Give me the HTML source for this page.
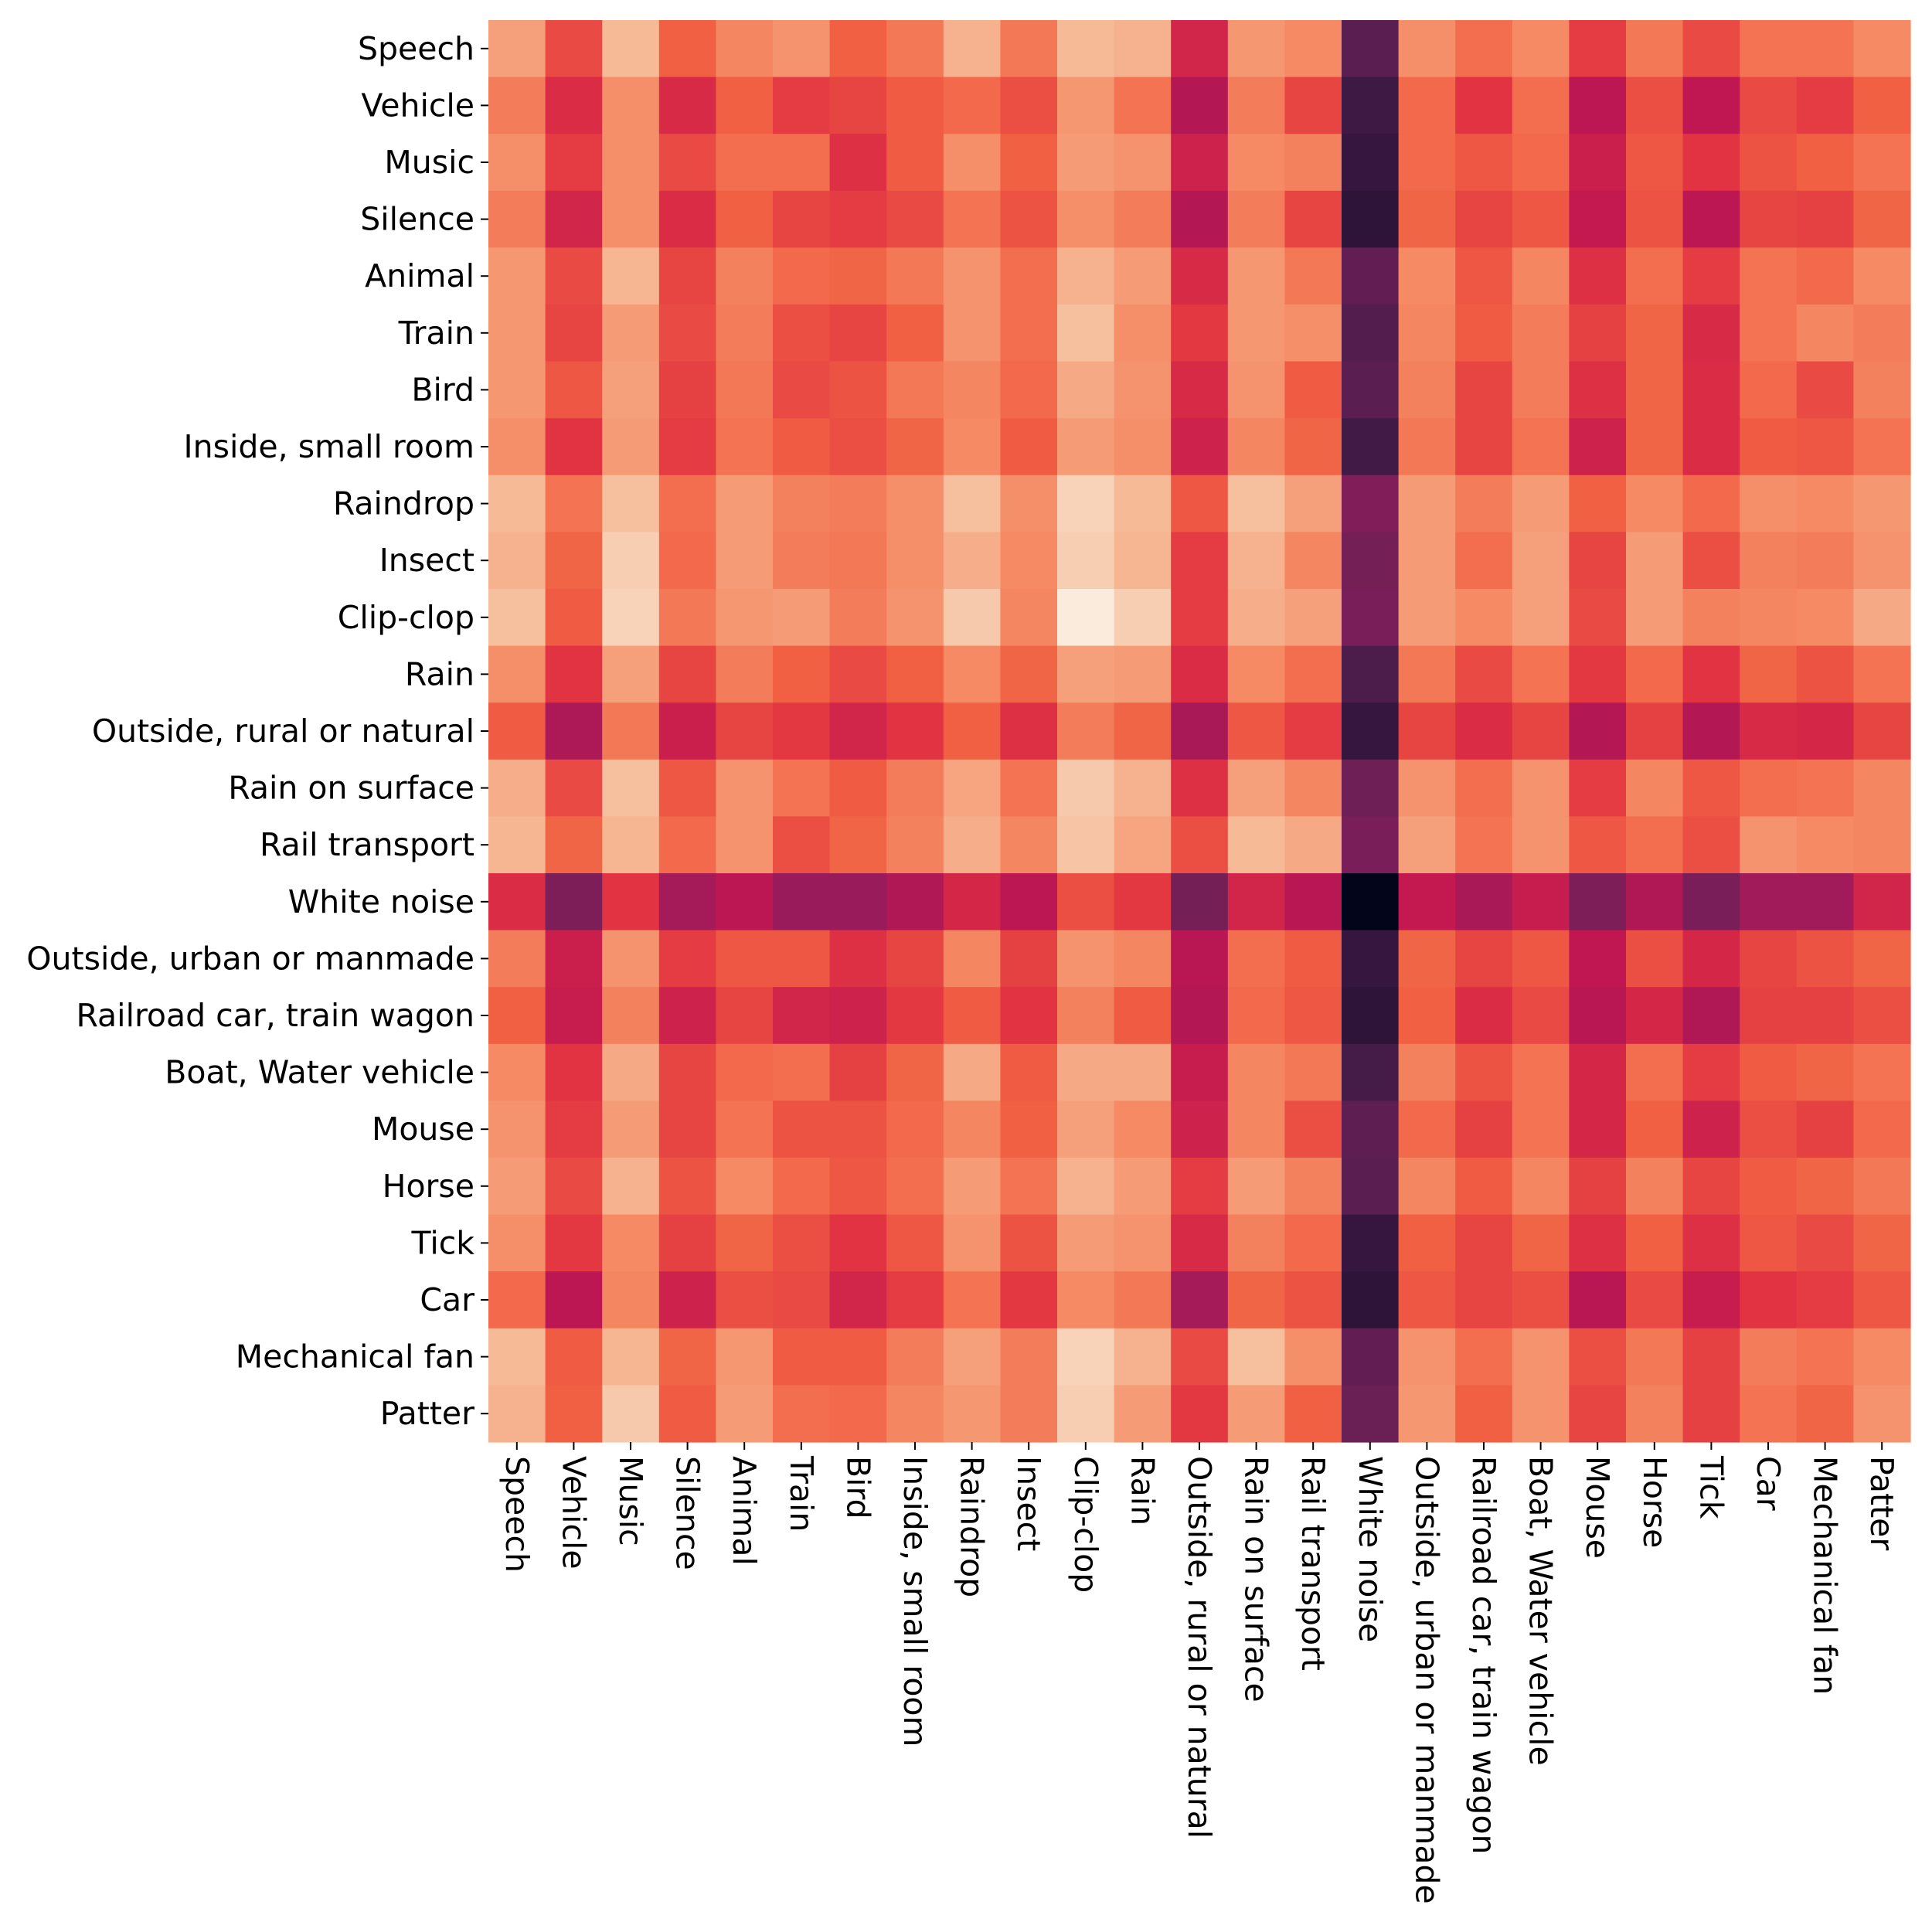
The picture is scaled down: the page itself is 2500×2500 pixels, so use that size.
<!DOCTYPE html>
<html><head><meta charset="utf-8"><style>
html,body{margin:0;padding:0;background:#fff;}
svg{display:block;}
text{font-family:"DejaVu Sans","Liberation Sans",sans-serif;font-size:41px;fill:#000;}
</style></head><body>
<svg id="chart" width="2500" height="2500" viewBox="0 0 2500 2500" xmlns="http://www.w3.org/2000/svg">
<g id="cells"></g>
<g id="yaxis"></g>
<g id="xaxis"></g>
</svg>
<script>
const categories = ["Speech","Vehicle","Music","Silence","Animal","Train","Bird","Inside, small room","Raindrop","Insect","Clip-clop","Rain","Outside, rural or natural","Rain on surface","Rail transport","White noise","Outside, urban or manmade","Railroad car, train wagon","Boat, Water vehicle","Mouse","Horse","Tick","Car","Mechanical fan","Patter"];
const row0 = [.82,.63,.88,.68,.76,.79,.68,.73,.86,.73,.88,.86,.53,.80,.77,.22,.78,.71,.77,.60,.73,.63,.72,.72,.77];
const row1 = [.74,.56,.78,.55,.68,.60,.62,.67,.70,.64,.80,.72,.45,.74,.62,.14,.70,.58,.71,.47,.64,.48,.63,.60,.68];
const row2 = [.78,.60,.78,.63,.71,.71,.57,.67,.78,.68,.81,.79,.52,.77,.75,.12,.70,.66,.70,.51,.66,.58,.65,.68,.72];
const row3 = [.74,.53,.78,.56,.68,.62,.60,.63,.72,.65,.78,.74,.45,.74,.62,.10,.69,.62,.66,.49,.65,.47,.62,.61,.69];
const row4 = [.80,.63,.87,.62,.75,.70,.69,.73,.79,.71,.86,.81,.55,.80,.73,.24,.77,.66,.76,.57,.71,.60,.72,.70,.77];
const row5 = [.80,.62,.81,.63,.74,.64,.62,.68,.79,.71,.89,.78,.59,.80,.78,.20,.76,.67,.74,.61,.69,.55,.72,.76,.74];
const row6 = [.80,.66,.82,.61,.73,.63,.65,.73,.76,.70,.84,.79,.55,.79,.67,.22,.75,.62,.74,.57,.69,.56,.70,.63,.75];
const row7 = [.78,.58,.81,.60,.72,.67,.64,.69,.77,.67,.81,.78,.52,.76,.69,.15,.73,.62,.72,.52,.69,.56,.67,.66,.72];
const row8 = [.88,.72,.89,.71,.81,.75,.74,.78,.89,.78,.93,.88,.66,.89,.82,.32,.81,.74,.81,.68,.77,.70,.78,.77,.80];
const row9 = [.86,.69,.92,.70,.81,.74,.73,.78,.85,.77,.92,.87,.60,.86,.76,.29,.81,.71,.82,.62,.81,.64,.75,.74,.79];
const row10 = [.89,.67,.93,.73,.80,.81,.74,.79,.91,.76,.98,.92,.60,.85,.82,.30,.81,.77,.82,.63,.81,.75,.76,.77,.84];
const row11 = [.78,.58,.82,.62,.74,.68,.63,.68,.77,.69,.82,.81,.56,.77,.71,.18,.73,.63,.72,.59,.70,.58,.69,.65,.72];
const row12 = [.67,.43,.73,.51,.62,.59,.53,.58,.68,.57,.74,.69,.42,.66,.60,.12,.62,.56,.62,.45,.61,.45,.55,.54,.62];
const row13 = [.85,.63,.89,.66,.79,.72,.67,.74,.83,.72,.91,.86,.57,.82,.76,.27,.79,.71,.79,.60,.76,.66,.71,.72,.76];
const row14 = [.87,.69,.87,.70,.79,.64,.69,.75,.85,.76,.90,.83,.64,.88,.84,.30,.82,.72,.79,.66,.71,.64,.79,.77,.76];
const row15 = [.56,.31,.58,.41,.47,.38,.38,.44,.54,.47,.64,.59,.29,.53,.46,.00,.49,.42,.50,.31,.44,.30,.40,.40,.53];
const row16 = [.74,.51,.79,.60,.66,.66,.57,.62,.76,.61,.79,.76,.46,.71,.67,.12,.69,.62,.66,.48,.64,.54,.62,.65,.69];
const row17 = [.68,.50,.75,.52,.62,.53,.52,.59,.67,.58,.75,.67,.45,.70,.66,.10,.68,.56,.63,.46,.54,.44,.61,.61,.64];
const row18 = [.77,.58,.84,.62,.70,.71,.61,.69,.84,.67,.84,.84,.50,.76,.73,.16,.75,.65,.72,.54,.71,.60,.67,.69,.72];
const row19 = [.79,.60,.81,.62,.72,.65,.65,.70,.76,.68,.82,.77,.52,.76,.64,.23,.70,.61,.72,.54,.68,.52,.64,.61,.70];
const row20 = [.81,.63,.86,.65,.77,.70,.66,.71,.81,.72,.86,.81,.60,.81,.75,.22,.76,.67,.76,.61,.75,.62,.67,.69,.73];
const row21 = [.78,.59,.77,.61,.69,.64,.58,.66,.79,.65,.81,.79,.55,.75,.70,.12,.68,.62,.69,.57,.68,.57,.66,.63,.69];
const row22 = [.70,.47,.76,.52,.64,.63,.53,.60,.72,.59,.77,.73,.41,.69,.65,.10,.66,.62,.64,.46,.63,.50,.58,.60,.66];
const row23 = [.88,.67,.87,.69,.80,.67,.67,.74,.82,.74,.93,.86,.63,.89,.78,.24,.79,.71,.79,.64,.73,.61,.74,.72,.77];
const row24 = [.86,.68,.91,.67,.81,.71,.70,.76,.80,.74,.92,.81,.59,.81,.68,.26,.80,.68,.79,.62,.75,.61,.72,.69,.79];
const values = [row0,row1,row2,row3,row4,row5,row6,row7,row8,row9,row10,row11,row12,row13,row14,row15,row16,row17,row18,row19,row20,row21,row22,row23,row24];

const X0=632, X1=2472, Y0=26, Y1=1866;
const n = categories.length;
const cw=(X1-X0)/n, ch=(Y1-Y0)/n;
const xScale = i => X0 + i*cw;
const yScale = i => Y0 + i*ch;
const stops=[[3,5,26],[40,18,54],[76,29,75],[113,31,87],[153,27,91],[192,22,81],[225,51,66],[241,96,67],[245,143,105],[246,186,151],[250,235,221]];
function rocket(v){v=Math.max(0,Math.min(1,v<0.05?v:v+0.02));const p=v*10;const i=Math.min(9,Math.floor(p));const t=p-i;const a=stops[i],b=stops[i+1];
return `rgb(${Math.round(a[0]+(b[0]-a[0])*t)},${Math.round(a[1]+(b[1]-a[1])*t)},${Math.round(a[2]+(b[2]-a[2])*t)})`;}
const NS="http://www.w3.org/2000/svg";
const cells=document.getElementById('cells');
for(let r=0;r<n;r++){for(let c=0;c<n;c++){
const el=document.createElementNS(NS,'rect');


el.setAttribute('x',xScale(c));el.setAttribute('y',yScale(r));
el.setAttribute('width',cw+0.6);el.setAttribute('height',ch+0.6);
el.setAttribute('fill',rocket(values[r][c]));
cells.appendChild(el);}}
const ya=document.getElementById('yaxis'), xa=document.getElementById('xaxis');
for(let i=0;i<n;i++){
const cy=yScale(i)+ch/2;
const tk=document.createElementNS(NS,'line');


tk.setAttribute('x1',X0-10);tk.setAttribute('x2',X0);tk.setAttribute('y1',cy);tk.setAttribute('y2',cy);tk.setAttribute('stroke','#000');tk.setAttribute('stroke-width','2');
ya.appendChild(tk);
const t=document.createElementNS(NS,'text');


t.setAttribute('x',X0-18);t.setAttribute('y',cy);t.setAttribute('text-anchor','end');t.setAttribute('dominant-baseline','central');
t.textContent=categories[i];ya.appendChild(t);
const cx=xScale(i)+cw/2;
const tk2=document.createElementNS(NS,'line');


tk2.setAttribute('x1',cx);tk2.setAttribute('x2',cx);tk2.setAttribute('y1',Y1);tk2.setAttribute('y2',Y1+10);tk2.setAttribute('stroke','#000');tk2.setAttribute('stroke-width','2');
xa.appendChild(tk2);
const t2=document.createElementNS(NS,'text');


t2.setAttribute('transform',`translate(${cx},${Y1+18}) rotate(90)`);
t2.setAttribute('dominant-baseline','central');
t2.textContent=categories[i];xa.appendChild(t2);
}
</script>
</body></html>
